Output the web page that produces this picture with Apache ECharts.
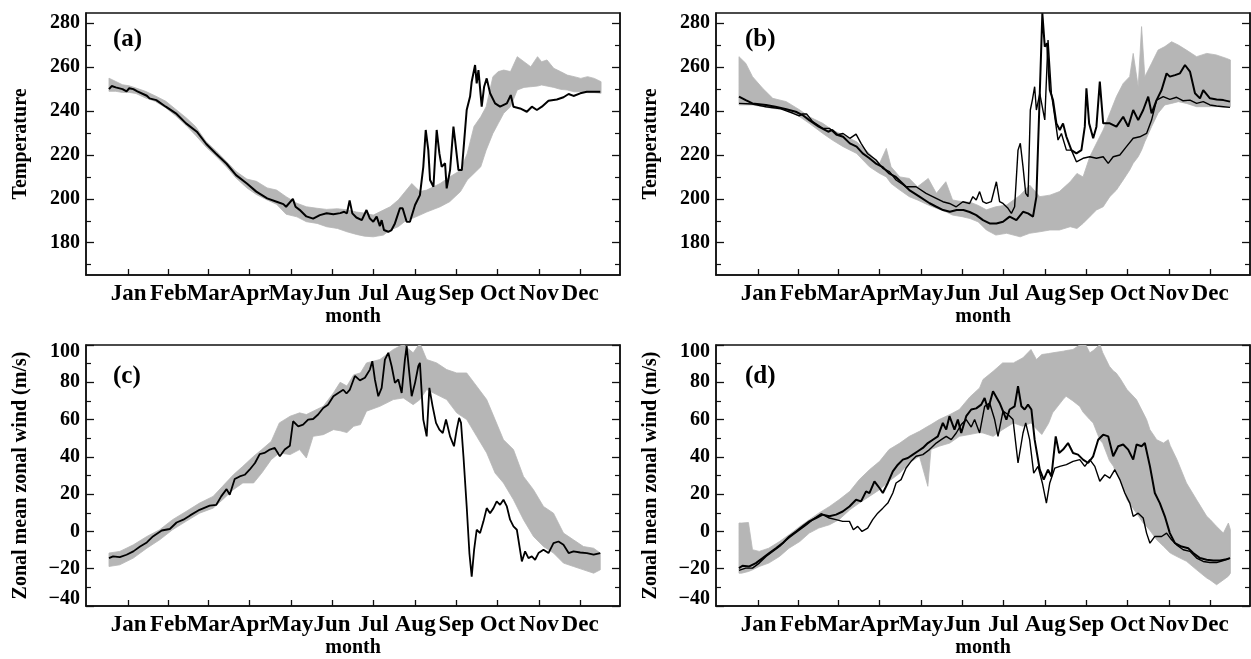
<!DOCTYPE html>
<html>
<head>
<meta charset="utf-8">
<script src="https://cdn.jsdelivr.net/npm/echarts@6/dist/echarts.min.js"></script>
<style>
html,body{margin:0;padding:0;background:#fff;}
#chart{width:1251px;height:659px;}
</style>
</head>
<body>
<div id="chart"></div>
<script>
// ---------- axis labels ----------
const monthNames = ['Jan','Feb','Mar','Apr','May','Jun','Jul','Aug','Sep','Oct','Nov','Dec'];
const monthMid = [15.5,45,74.5,105,135.5,166,196.5,227.5,258,288.5,319,349.5];
const tempMajor = [180,200,220,240,260,280];
const tempMinor = [170,190,210,230,250,270];
const windMajor = [-40,-20,0,20,40,60,80,100];
const windMinor = [-30,-10,10,30,50,70,90];
const panelLabels = ['(a)','(b)','(c)','(d)'];

// ---------- panel (a): temperature, [day, low, high] envelope and one run ----------
const bandA = [[1,249,255],[6,249,253.5],[11,248.5,252],[16,248.5,251.5],[21,248,250.5],[28,246,249],[35,244.5,247],[43,241.5,244.5],[50,238,241],[58,233.5,237],[65,229,233],[73,223.5,226],[80,219.5,222],[88,214.5,217],[95,209.5,212.5],[103,205,209],[110,202,208],[118,199.5,205],[125,197.5,204],[132,193,201],[140,191.8,198],[147,189.6,196.4],[155,188.8,195.7],[162,187.3,195.2],[170,186.5,195.5],[177,185,195],[184,183.8,194],[190,183,193.5],[196.5,182.7,192.6],[204,183.5,194.9],[209,185.8,196.4],[215,187.3,199.5],[221,190.3,204],[225,191,207],[231,192.6,203.3],[236,194,204],[246,196.4,207],[253,198.7,210],[261,203.3,213],[266,208.6,220.7],[271,211.6,233],[276,214.6,237.4],[280,222.2,242],[285,229.8,255.7],[289,234.4,258],[293,239,258.7],[298,242,258],[303,249.6,264.8],[308,250.8,262.5],[313,251.1,260.2],[318,251.4,264.8],[321,251.9,262.5],[325,251.4,263.3],[330,250.8,259.5],[335,249.9,258],[340,249.6,256.4],[345,248.8,255.7],[350,248.8,254.9],[355,248.4,255.7],[360,248.4,254.9],[365,248.1,253.4]];
const lineA = [[1,250],[3,251.4],[6,250.8],[11,250],[14,249],[16,250.4],[19,250],[22,249],[29,247],[31,245.8],[36,245],[43,242],[51,238.7],[58,234.4],[66,230.6],[73,225],[80,220.7],[88,216],[95,210.8],[103,207],[110,203.3],[118,200.2],[125,198.7],[130,197.6],[132,196.4],[137,200],[139,196.4],[142,195],[147,192],[152,191],[157,192.6],[162,193.4],[167,193],[172,193.5],[175,194.1],[177,193.4],[179,199.3],[181,193.4],[184,191.5],[188,190.3],[191.5,194.9],[194,191],[196.5,189.6],[199,191.9],[201.4,187.6],[202.7,190.3],[204.4,185.8],[207.6,185],[210,185.8],[212.5,188.8],[216.2,195.7],[218.2,195.7],[221.2,189.6],[223.6,189.6],[227.4,197.2],[231,201.7],[233.5,214.6],[235.3,231.4],[237.2,222.2],[238.5,208.6],[241,205.5],[243.4,231.4],[245.4,220.7],[247.1,214.6],[249.6,216.2],[250.8,204.8],[253.3,213.1],[255.8,232.9],[257,226.8],[259.5,213.1],[262,213.1],[263.6,225.3],[265.6,240.5],[268.1,246.6],[269.3,253.4],[270.6,254.2],[271.8,261],[273,252.6],[274.3,258.7],[276.7,242],[278.5,251.1],[280.4,254.9],[282.9,248.1],[286.6,243.5],[290.3,242],[295.3,243.5],[298.2,247.3],[300.2,242],[305.1,241.2],[310.1,239.7],[313.8,242],[317.5,240.5],[321.2,242],[326.1,244.7],[332.3,245.3],[337.2,246.3],[341,247.8],[344.6,246.9],[349.6,248.1],[354.5,248.8],[359.5,248.8],[364.4,248.8]];

// ---------- panel (b): temperature, envelope and two runs ----------
const bandB = [[1,242.8,264.8],[6,242.8,261.8],[11,242.8,255.7],[18.5,242,250.4],[26,241.2,245.8],[36,240.5,244.3],[46,237.4,240.5],[53,234.4,237.4],[63,229.8,234.4],[70,226.8,231.4],[78,223.8,229.1],[88,220.7,226],[97.5,214.6,220.7],[105,211.6,216.2],[110,210,223],[113.5,207,214.6],[120,204,210],[127,201,209.3],[133,199.5,205.5],[141,197.2,209.3],[147,195.7,202.5],[154,194.1,207.8],[159,192.6,199.5],[166,191.9,198.7],[172,191,198.5],[178,189.5,197],[184,185.8,195],[191,183.5,196.4],[199,184.3,197.2],[209,182.7,201.7],[216,184.3,206.3],[223.5,185,201],[231,185.8,201.7],[238,185.8,203.3],[246,187.3,207.8],[251,186.5,211.6],[255.5,188.8,210],[260.5,191.9,219.2],[265.4,194.9,225.3],[270.4,196.4,231.4],[275.3,201,239],[280.2,204,246.6],[285.2,208.6,252.6],[290,213.1,255.7],[292.6,216.2,266.3],[296.3,219.2,251.1],[298.8,222.2,278.5],[301.2,226,255.7],[306.2,232.9,261.8],[311,239,267.8],[316,242.8,269.4],[321,243.5,271.6],[326,244.3,270.1],[332,243.5,267.8],[339.5,242,264.8],[347,242,266.3],[354,242,265.6],[361.7,242,264],[364.5,242,263.3]];
const lineB1 = [[1,246.6],[6,245],[11,243.5],[21,242.8],[28,242],[36,240.8],[43,239.7],[48,238.2],[53,235.9],[60,232.9],[67,230.6],[70,231.4],[74,229.1],[78,228.3],[83,225.3],[88,223.8],[92.5,220.7],[97.5,218.5],[102,216.2],[107,214.6],[112,211.6],[117,210],[122,207],[127,204],[134.5,201],[142,198],[147,196.4],[152,194.9],[157,194.1],[162,194.9],[167,194.9],[171.6,194],[176.5,192.6],[181.5,190.3],[186.4,188.8],[191.4,188.8],[196.3,189.6],[201.2,191.9],[206.2,190.3],[211.1,194.1],[214.8,193.4],[218.5,191.9],[221,201],[223.5,248],[225.4,284.6],[227.2,269.4],[228.9,270.9],[230.9,249.6],[233.3,245],[235.8,234.4],[238.3,231.4],[240.7,234.4],[243.2,228.3],[246.9,222.2],[250.6,220.7],[254.3,222.2],[256.8,232.9],[258,250.4],[260,234.4],[263,227.6],[265.4,232.9],[267.9,253.4],[270.4,234.4],[275.3,234.4],[280.2,232.9],[285.2,237.4],[288.9,232.9],[292.6,240.5],[296.3,235.9],[300,240.5],[303.7,246.6],[306.2,239],[309.9,245],[313.6,249.6],[317.3,257.2],[319.7,255.7],[323.5,256.4],[327.2,257.2],[330.9,261],[334.6,258],[338.3,248.1],[342,245.8],[344.4,249.6],[349.4,245.8],[354.3,245.3],[359.3,245],[364.2,244.3]];
const lineB2 = [[1,243.5],[11,243.2],[21,242],[31,241.2],[41,239],[45.6,237.8],[48,238.7],[51,238.7],[55.5,235.2],[63,232.1],[68,232.1],[73,229.1],[78,229.8],[83,227.6],[87.6,229.5],[91.3,225.3],[96,220.7],[102.4,217.7],[107.4,213.9],[112.3,212.4],[117.2,208.6],[124.6,205.5],[132,205.5],[139.4,202.5],[146.9,200.2],[151.8,198.7],[156.7,197.9],[161.7,196.4],[166.6,198.7],[171.6,197.9],[174,201],[176.5,199.5],[179,203.3],[181.4,198.7],[184,197.9],[187.6,198.7],[191.4,207.8],[193.8,198.7],[196.3,197.9],[200,195.7],[202.5,193.4],[204.9,196.4],[207.4,222.2],[209.1,225.3],[211.1,214.6],[213.1,202.5],[214.8,201],[216.5,240.5],[218,245],[219.7,251.1],[221,240.5],[223.5,248],[227.2,236],[229.6,272.4],[232.1,248],[234.6,237.4],[237,226.8],[239.5,229.8],[243.2,222.2],[246.9,222.2],[250.6,216.9],[255.5,218.5],[260.5,219.2],[265.4,218.5],[270.4,219.2],[274.1,216.2],[277.8,219.2],[282.7,220],[287.6,223.8],[292.6,227.6],[297.5,228.3],[302.5,229.8],[306.2,235.9],[309.9,245],[314.8,246.6],[319.7,245.3],[324.7,246.3],[329.6,244.7],[334.6,245],[339.5,243.5],[344.4,244.3],[349.4,242.8],[354.3,242.3],[359.3,242],[364.2,241.7]];

// ---------- panel (c): zonal wind, envelope and one run ----------
const bandC = [[1,-18.8,-11.6],[9,-17.9,-10.7],[19,-14.3,-7.2],[29,-9,-2.7],[38.5,-4.5,0.9],[48,0.9,6.3],[58,5.4,10.7],[68,9.8,15.2],[78,12.5,18.8],[85,17,24.2],[93,22.4,30.4],[100,26,34.9],[108,26,40.3],[114,31.3,43.9],[121,38.5,48.3],[127,42.1,58.2],[135,41.2,61.8],[142,43.9,63.6],[147,39.4,62.7],[152,51,64.5],[159.5,51.9,67.1],[167,54.6,74.3],[172,54,80],[177,53,78],[182,56.4,84],[187,57.3,85],[191.5,64.5,90.4],[201.4,67.1,92.2],[211.3,70.7,97.6],[218.7,71.6,100.3],[226,68,95.8],[231,70.7,101],[236,76.1,92.2],[243.4,73.4,90.4],[250.8,70.7,86.8],[258.2,63.6,85],[265.6,60,85],[273,51,77.9],[280.4,42.1,70.7],[286.6,31.3,60],[292.8,26,49.2],[300.2,17,43.9],[307.6,6.3,29.5],[315,-2.7,22.4],[322.4,-8.1,13.4],[329.8,-11.6,9.8],[337.2,-17,-0.9],[344.6,-18.8,-4.5],[352,-20.6,-8.1],[359.5,-22.4,-9],[364.4,-20.6,-11.6]];
const lineC = [[1,-14.3],[4,-13.4],[9,-13.8],[14,-12.5],[19,-10.7],[24,-8.1],[29,-5.9],[33.5,-2.7],[40,0.5],[46,1.3],[51,4.8],[56,6.3],[61,8.6],[68,11.6],[75.5,13.8],[80.4,14.3],[84,18.8],[88,22.7],[90.3,19.7],[94,28.1],[97.7,29.5],[101.4,30.4],[105,33.1],[109,36.7],[112.5,41.5],[116,42.1],[120,43.9],[123.6,44.8],[127.4,40.3],[131,43.9],[134.8,46],[137.2,59.1],[141,56.4],[144.6,57.3],[148.3,60],[152,60.3],[155.7,62.7],[159.5,66.2],[163,68],[167,72.5],[170.6,74.3],[174.3,76],[176.7,74],[179.2,76.1],[182.9,83.4],[186.6,81],[190.3,82.4],[194,86.8],[195.8,91.3],[197.7,81.5],[200.2,72.5],[202.7,77],[205.1,92.2],[207.6,95.8],[210.1,88.6],[212.5,79.7],[215,81.5],[217.5,74.3],[219.9,92.2],[221.2,99.4],[222.9,86.8],[224.9,72.5],[227.4,79.7],[229.8,88.6],[231,90.4],[233.5,60],[236,51],[238,77],[240.4,67.1],[242.9,58.2],[245.4,54.6],[247.9,52.8],[250.3,60],[253.3,51],[256.2,45.7],[258.2,54.6],[260,60.9],[261.4,58.2],[263.2,40.3],[265.6,13.4],[267.6,-11.6],[269.3,-24.2],[271.1,-9.8],[273,0.9],[275.5,-0.9],[278,5.4],[280.4,12.5],[282.9,9.8],[285.4,12.5],[287.8,16.1],[290.3,14.3],[292.8,17],[295.3,13.4],[297.7,6.3],[300.2,2.7],[302.7,0.9],[306.4,-16.1],[308.8,-10.7],[311.3,-14.3],[313.8,-13.4],[316.2,-15.2],[318.7,-11.6],[322.4,-9.8],[326.1,-11.6],[329.8,-6.3],[333.5,-5.4],[337.2,-7.2],[341,-11.6],[344.6,-10.7],[349.6,-11.3],[354.5,-11.6],[359.5,-12.5],[364.4,-11.6]];

// ---------- panel (d): zonal wind, envelope and two runs ----------
const bandD = [[1,-22.4,4.5],[3,-22.4,4.5],[8,-21.5,4.8],[11,-20.6,-9.8],[16,-18.8,-10.7],[23,-17,-9],[31,-13.4,-5.4],[38,-9,-1.8],[46,-5.4,2.7],[53,-0.9,6.3],[60,1.8,9.8],[68,3.6,13.4],[75,6.3,17],[83,11.6,21.5],[90,15.2,27.8],[97.5,18.8,33.1],[105,22.4,37.6],[112,26.9,43.9],[120,31.3,47.4],[127,36.7,51],[134.5,40.3,53.7],[140.7,24.2,56.4],[143,43.9,57.3],[149,45.7,60],[157,47.4,62.7],[164,51,65.4],[171.6,52,72],[179,53,77],[181.5,52.8,81.5],[189,51,85.9],[196,54.6,90.4],[204,58.2,90.4],[211,56.4,93.1],[217,58.2,97.6],[221,55,92.2],[225,52,94.9],[230,58,95.4],[233,63.6,95.8],[241,71,96.7],[243,72.5,97],[248,70,97.6],[253,67.1,100],[255.5,64,103],[260.5,60,95.8],[263,58.2,97],[268,49,100.3],[270,47.4,96],[275,38,88.6],[278,34.9,86],[280,31,85],[283,27.8,82],[288,17,76.1],[295,9.8,70.7],[300,4.5,63.6],[302.5,2.7,60],[305,0.5,54.6],[310,-4.5,49.2],[315,-8,47.4],[318.5,-10.5,49.2],[320,-11.6,46],[325,-13.5,38.5],[332,-16,26],[339.5,-20.6,17],[347,-25,8.1],[349.4,-26,6.5],[354.3,-28.6,2.7],[359.3,-26,-0.9],[363,-24,4.5],[364.5,-22.4,0.9]];
const lineD1 = [[1,-19.7],[3.6,-18.4],[8.6,-18.8],[13.5,-17],[18.5,-14.3],[23.4,-11.6],[28.3,-9],[33.3,-6.3],[38.2,-2.7],[43.2,0],[48.1,2.7],[53,5.4],[58,7.2],[62.9,9],[67.8,8.1],[72.8,9],[77.7,10.7],[82.7,13.4],[87.6,17],[91.3,16.1],[95,21.5],[97.5,20.6],[101.2,26.9],[104.9,23.3],[107.4,20.6],[111.1,26],[114.8,32.2],[118.5,35.8],[122.2,38.5],[125.9,39.4],[129.6,41.2],[133.3,43],[137,44.8],[140.7,47.4],[144.4,49.2],[148.1,51],[151.8,58.2],[154.3,54.6],[156.7,61.8],[160.4,54.6],[162.9,60],[165.4,52.8],[169.1,61.8],[172.8,65.4],[176.5,66],[180.2,68],[182.7,71.6],[185.2,65.4],[188.9,75.2],[193.8,68.9],[198.8,60],[201.2,65.4],[204.9,67.1],[207.4,77.9],[209.9,67.1],[212.3,65.4],[214.8,68],[217.3,65.4],[219.7,49.2],[223.5,33.1],[226.4,27.8],[229.6,33.1],[232.1,29.5],[235.3,51],[237.8,42.1],[240.7,43.9],[244.4,47.4],[248.1,42.1],[251.8,41.2],[255.5,38.5],[259.3,36.7],[263,40.3],[266.7,49.2],[270.4,51.9],[274.1,51],[277.8,40.3],[281.5,45.7],[285.2,46.6],[288.9,43.9],[292.6,38.5],[295.1,46.6],[298.8,45.7],[301.2,47.4],[305,34.9],[308.6,20.6],[312.3,15.2],[316,8.1],[319.7,-0.9],[323.5,-6.3],[328.4,-8.1],[333.3,-9],[337,-11.6],[342,-14.3],[346.9,-15.2],[351.9,-15.6],[356.8,-15.6],[361.7,-14.9],[364.2,-14.3]];
const lineD2 = [[1,-20.9],[6,-19.7],[11,-19.7],[16,-17],[21,-13.4],[26,-10.7],[31,-8.1],[36,-4.5],[41,-1.8],[46,0.9],[51,3.6],[55.5,6.3],[61.7,9.5],[67.8,7.2],[72.8,6.3],[77.7,5.4],[82.7,5.4],[85.6,0.9],[88.8,2.7],[92,0],[96.2,1.8],[99.9,6.3],[103.6,9.8],[107.4,12.5],[111.1,15.2],[114.8,20.6],[117.2,26],[120.9,27.8],[124.6,34],[128.3,37.6],[132,40.3],[137,41.2],[141.9,43.9],[146.9,47.4],[150.6,49.2],[154.3,51],[158,49.2],[161.7,52.8],[165.4,57.3],[169.1,60],[172.8,56],[175.3,60],[179,52.8],[182.7,67.1],[186.4,68.9],[190.1,60],[192.6,51],[196.3,64.5],[200,62.7],[203.7,60],[207.4,36.7],[211.1,52.8],[213.1,58.2],[216,49.2],[219,31.3],[222.2,34.9],[225.4,26],[228.4,15.2],[230.9,26],[234.6,34],[238.3,34.9],[243.2,35.8],[248.1,37.6],[253.1,38.5],[256.8,34.9],[260.5,38.5],[264.2,34.9],[267.9,26.9],[271.6,30.4],[275.3,28.6],[279,33.1],[282.7,27.8],[286.4,20.6],[290.1,15.2],[292.6,8.1],[296.3,9.8],[300,7.2],[302.5,-0.9],[305,-6.3],[308.6,-2.7],[313.6,-2.7],[317.3,-0.9],[321,-4.5],[324.7,-7.2],[329.6,-9.8],[334.6,-10.7],[339.5,-14.3],[344.4,-16.1],[349.4,-16.7],[354.3,-16.7],[359.3,-15.6],[364.2,-14.3]];

// ---------- build chart ----------
const FONT = 'Liberation Serif';
const INK = '#111';
const grids = [
  {left:86, top:13, width:534, height:262},
  {left:716, top:13, width:534, height:262},
  {left:86, top:345, width:534, height:261},
  {left:716, top:345, width:534, height:261}
];
const panels = [
  {band:bandA, lines:[[lineA,2]], range:[165.3,284.7], major:tempMajor, minor:tempMinor, name:'Temperature'},
  {band:bandB, lines:[[lineB1,2],[lineB2,1.4]], range:[165.3,284.7], major:tempMajor, minor:tempMinor, name:'Temperature'},
  {band:bandC, lines:[[lineC,1.8]], range:[-40,100], major:windMajor, minor:windMinor, name:'Zonal mean zonal wind (m/s)'},
  {band:bandD, lines:[[lineD1,2],[lineD2,1.4]], range:[-40,100], major:windMajor, minor:windMinor, name:'Zonal mean zonal wind (m/s)'}
];

const xAxis = [], yAxis = [], series = [], graphic = [];
panels.forEach((p, g) => {
  xAxis.push({
    gridIndex:g, type:'value', min:-16, max:379,
    name:'month', nameLocation:'middle', nameGap:30,
    nameTextStyle:{fontFamily:FONT, fontWeight:'bold', fontSize:20, color:'#000'},
    axisLine:{show:true, onZero:false, lineStyle:{color:INK, width:1.5}},
    axisTick:{show:true, inside:true, length:6, customValues:monthMid, lineStyle:{color:INK, width:1.3}},
    axisLabel:{customValues:monthMid, margin:8, fontFamily:FONT, fontWeight:'bold', fontSize:23, color:'#000',
      formatter:v => { const i = monthMid.findIndex(m => Math.abs(m - v) < 0.01); return i >= 0 ? monthNames[i] : ''; }},
    splitLine:{show:false}
  });
  const isWind = g >= 2;
  const lab = {
    customValues:p.major, margin:6, fontFamily:FONT, fontWeight:'bold', fontSize:20, color:'#000',
    formatter: v => {
      const s = v < 0 ? '\u2212' + Math.abs(v) : String(v);
      if (isWind && v === p.major[p.major.length-1]) return '{t|' + s + '}';
      if (isWind && v === p.major[0]) return '{b|' + s + '}';
      return s;
    },
    rich:{
      t:{fontFamily:FONT, fontWeight:'bold', fontSize:20, color:'#000', padding:[14,0,0,0]},
      b:{fontFamily:FONT, fontWeight:'bold', fontSize:20, color:'#000', padding:[0,0,14,0]}
    }
  };
  const base = {gridIndex:g, type:'value', min:p.range[0], max:p.range[1], splitLine:{show:false}};
  yAxis.push(Object.assign({}, base, {
    position:'left', name:p.name, nameLocation:'middle', nameGap:55, nameRotate:90,
    nameTextStyle:{fontFamily:FONT, fontWeight:'bold', fontSize:20, color:'#000'},
    axisLine:{show:true, onZero:false, lineStyle:{color:INK, width:1.5}},
    axisTick:{show:true, inside:true, length:8, customValues:p.major, lineStyle:{color:INK, width:1.3}},
    axisLabel:lab
  }));
  yAxis.push(Object.assign({}, base, {
    position:'left', axisLine:{show:false, onZero:false},
    axisTick:{show:true, inside:true, length:5, customValues:p.minor, lineStyle:{color:INK, width:1.2}},
    axisLabel:{show:false}
  }));
  yAxis.push(Object.assign({}, base, {
    position:'right', axisLine:{show:true, onZero:false, lineStyle:{color:INK, width:1.5}},
    axisTick:{show:true, inside:true, length:8, customValues:p.major, lineStyle:{color:INK, width:1.3}},
    axisLabel:{show:false}
  }));
  yAxis.push(Object.assign({}, base, {
    position:'right', axisLine:{show:false, onZero:false},
    axisTick:{show:true, inside:true, length:5, customValues:p.minor, lineStyle:{color:INK, width:1.2}},
    axisLabel:{show:false}
  }));
  const band = p.band;
  series.push({
    type:'custom', xAxisIndex:g, yAxisIndex:g*4, data:band, clip:true, silent:true, z:1,
    encode:{x:0, y:[1,2]},
    renderItem:(params, api) => {
      if (params.dataIndex !== 0) return null;
      const pts = [];
      for (let i = 0; i < band.length; i++) pts.push(api.coord([band[i][0], band[i][2]]));
      for (let i = band.length - 1; i >= 0; i--) pts.push(api.coord([band[i][0], band[i][1]]));
      return {type:'polygon', shape:{points:pts}, style:{fill:'#b6b6b6', stroke:'#b6b6b6', lineWidth:0.8}};
    }
  });
  p.lines.forEach(([ln, w]) => {
    series.push({
      type:'line', xAxisIndex:g, yAxisIndex:g*4, data:ln, showSymbol:false, symbol:'none',
      lineStyle:{color:'#000', width:w}, z:3, clip:true, silent:true
    });
  });
  graphic.push({
    type:'text', left:grids[g].left + (g % 2 === 0 ? 27 : 29), top:grids[g].top + (g < 2 ? 14 : 19),
    style:{text:panelLabels[g], fontFamily:FONT, fontWeight:'bold', fontSize:25, fill:'#000'}
  });
});

const chart = echarts.init(document.getElementById('chart'), null, {renderer:'canvas'});
chart.setOption({
  animation:false,
  backgroundColor:'#fff',
  grid:grids.map(gr => Object.assign({show:true, borderColor:INK, borderWidth:1.5, backgroundColor:'transparent', containLabel:false}, gr)),
  xAxis, yAxis, series, graphic
});
</script>
</body>
</html>
